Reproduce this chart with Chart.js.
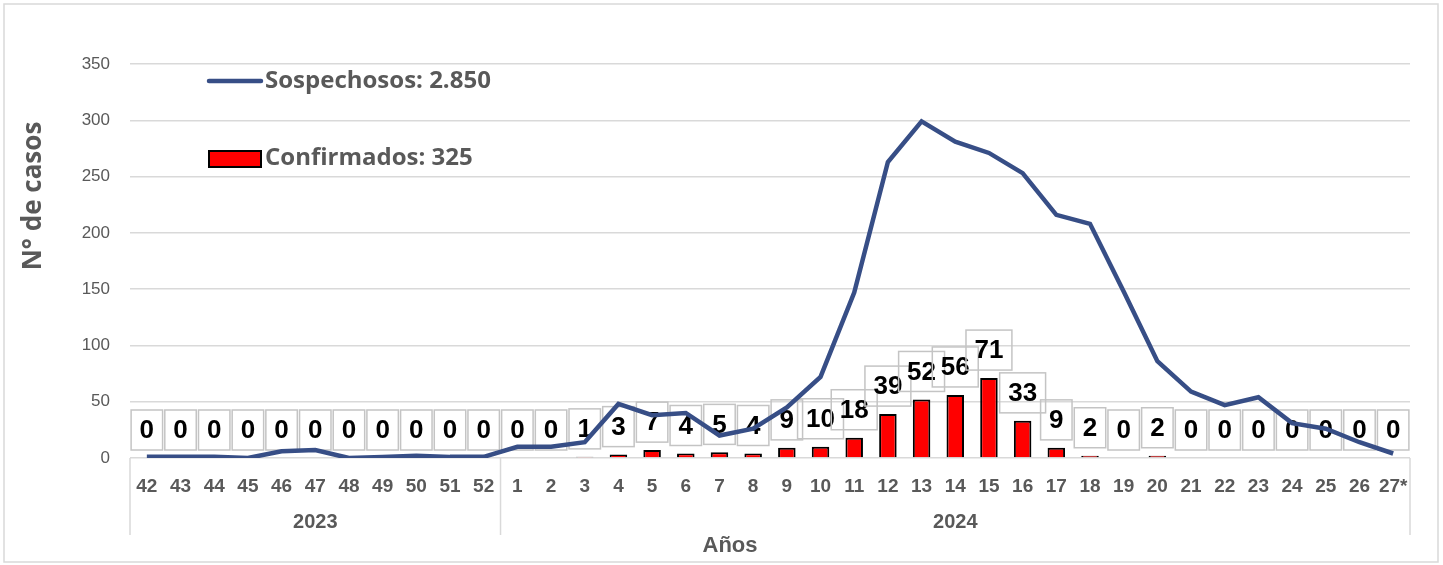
<!DOCTYPE html>
<html>
<head>
<meta charset="utf-8">
<script src="https://cdn.jsdelivr.net/npm/chart.js@4.4.1/dist/chart.umd.min.js"></script>
<style>
  html, body { margin: 0; padding: 0; background: #fff; }
  #wrap { width: 1443px; height: 565px; }
</style>
</head>
<body>
<div id="wrap"><canvas id="casesChart" width="1443" height="565"></canvas></div>
<script>
// epidemiological weeks, 2023 wk 42 .. 2024 wk 27
const weeks = ['42', '43', '44', '45', '46', '47', '48', '49', '50', '51', '52',
  '1', '2', '3', '4', '5', '6', '7', '8', '9', '10', '11', '12', '13', '14', '15', '16',
  '17', '18', '19', '20', '21', '22', '23', '24', '25', '26', '27*'];
const yearLabels = ['2023', '2024'];
const yearWeekCounts = [11, 27];

const suspected = [1, 1, 1, 0, 6, 7, 0, 1, 2, 1, 1,
  10, 10, 14, 48, 38, 40, 20, 26, 45, 72, 147, 263, 299, 281, 271, 253,
  216, 208, 148, 86, 59, 47, 54, 31, 26, 14, 4];
const confirmed = [0, 0, 0, 0, 0, 0, 0, 0, 0, 0, 0,
  0, 0, 1, 3, 7, 4, 5, 4, 9, 10, 18, 39, 52, 56, 71, 33,
  9, 2, 0, 2, 0, 0, 0, 0, 0, 0, 0];

const yTicks = [0, 50, 100, 150, 200, 250, 300, 350];
const legendSuspected = 'Sospechosos: 2.850';
const legendConfirmed = 'Confirmados: 325';

const grey = '#595959';
const gridGrey = '#d9d9d9';
const navy = '#374e86';
const arial = '"Liberation Sans", Arial, sans-serif';

const overlay = {
  id: 'overlay',
  afterDatasetDraw(chart, args) {
    if (args.index !== 1) return; // value boxes go right after the bars, under the line
    const ctx = chart.ctx;
    ctx.save();
    ctx.font = 'bold 26px ' + arial;
    ctx.textAlign = 'center';
    ctx.textBaseline = 'middle';
    args.meta.data.forEach((bar, i) => {
      const txt = String(confirmed[i]);
      const cy = bar.y - 28;
      const w = ctx.measureText(txt).width + 17;
      ctx.strokeStyle = '#c4c4c4';
      ctx.lineWidth = 1.5;
      ctx.strokeRect(bar.x - w / 2, cy - 20, w, 40);
      ctx.fillStyle = '#000';
      ctx.fillText(txt, bar.x, cy + 1);
    });
    ctx.restore();
  },
  afterDraw(chart) {
    const ctx = chart.ctx;
    const x = chart.scales.x;
    const area = chart.chartArea;
    ctx.save();

    // year group separators + labels
    ctx.strokeStyle = gridGrey;
    ctx.lineWidth = 1.5;
    let start = 0;
    const seps = [area.left];
    yearLabels.forEach((yr, k) => {
      const end = start + yearWeekCounts[k] - 1;
      const right = end < weeks.length - 1
        ? (x.getPixelForValue(end) + x.getPixelForValue(end + 1)) / 2 : area.right;
      seps.push(right);
      const left = seps[k];
      ctx.fillStyle = grey;
      ctx.font = 'bold 20px ' + arial;
      ctx.textAlign = 'center';
      ctx.textBaseline = 'middle';
      ctx.fillText(yr, (left + right) / 2, 522);
      start = end + 1;
    });
    seps.forEach(px => {
      ctx.beginPath();
      ctx.moveTo(px, area.bottom);
      ctx.lineTo(px, 535);
      ctx.stroke();
    });

    // axis titles
    ctx.fillStyle = grey;
    ctx.font = 'bold 22px ' + arial;
    ctx.textAlign = 'center';
    ctx.fillText('Años', 730, 546);

    ctx.save();
    ctx.translate(34, 196);
    ctx.rotate(-Math.PI / 2);
    ctx.font = 'bold 26px "Open Sans", sans-serif';
    ctx.fillText('N° de casos', 0, 0);
    ctx.restore();

    // legend inside plot
    ctx.strokeStyle = navy;
    ctx.lineWidth = 4.5;
    ctx.lineCap = 'round';
    ctx.beginPath();
    ctx.moveTo(209, 81);
    ctx.lineTo(261, 81);
    ctx.stroke();
    ctx.fillStyle = '#ff0000';
    ctx.strokeStyle = '#000';
    ctx.lineWidth = 2;
    ctx.fillRect(209, 151, 52, 16);
    ctx.strokeRect(209, 151, 52, 16);
    ctx.fillStyle = grey;
    ctx.font = 'bold 24px "Open Sans", sans-serif';
    ctx.textAlign = 'left';
    ctx.textBaseline = 'middle';
    ctx.fillText(legendSuspected, 265, 81);
    ctx.fillText(legendConfirmed, 265, 158);

    // outer frame
    ctx.strokeStyle = gridGrey;
    ctx.lineWidth = 1.5;
    ctx.strokeRect(4, 4, 1434, 558);
    ctx.restore();
  }
};

const chart = new Chart(document.getElementById('casesChart').getContext('2d'), {
  type: 'bar',
  data: {
    labels: weeks,
    datasets: [{
      type: 'line',
      label: legendSuspected,
      data: suspected,
      borderColor: navy,
      borderWidth: 4.5,
      pointRadius: 0,
      tension: 0,
      order: 0
    },
    {
      type: 'bar',
      label: legendConfirmed,
      data: confirmed,
      backgroundColor: '#ff0000',
      borderColor: '#000',
      borderWidth: 2,
      barPercentage: 0.52,
      categoryPercentage: 1,
      order: 1
    }]
  },
  options: {
    responsive: false,
    animation: false,
    layout: { padding: { left: 0, right: 33, top: 64, bottom: 0 } },
    plugins: { legend: { display: false }, tooltip: { enabled: false } },
    scales: {
      x: {
        grid: { display: false },
        border: { display: false },
        ticks: {
          color: grey, padding: 9, autoSkip: false, maxRotation: 0,
          font: { family: arial, size: 19, weight: 'bold' }
        },
        afterFit: scale => { scale.height = 107; }
      },
      y: {
        min: 0, max: 350,
        afterBuildTicks: scale => { scale.ticks = yTicks.map(v => ({ value: v })); },
        grid: { color: gridGrey, lineWidth: 1.5, drawTicks: false },
        border: { display: false },
        ticks: {
          color: grey, padding: 20,
          font: { family: arial, size: 17 }
        },
        afterFit: scale => { scale.width = 130; }
      }
    }
  },
  plugins: [overlay]
});
</script>
</body>
</html>
